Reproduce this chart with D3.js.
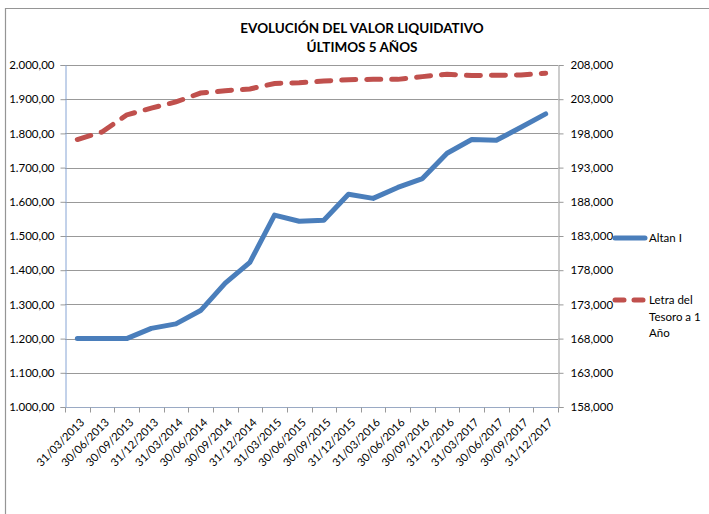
<!DOCTYPE html>
<html>
<head>
<meta charset="utf-8">
<script src="https://cdn.jsdelivr.net/npm/d3@7"></script>
<style>
  body { margin: 0; background: #fff; }
  text { font-family: Lato, "Open Sans", sans-serif; fill: #000; }
</style>
</head>
<body>
<svg id="chart" width="709" height="514"></svg>
<script>
// fechas (trimestres)
var fechas = ["31/03/2013", "30/06/2013", "30/09/2013", "31/12/2013", "31/03/2014", "30/06/2014",
	"30/09/2014", "31/12/2014", "31/03/2015", "30/06/2015", "30/09/2015", "31/12/2015",
	"31/03/2016", "30/06/2016", "30/09/2016", "31/12/2016", "31/03/2017", "30/06/2017",
	"30/09/2017", "31/12/2017"];

// valor liquidativo Altan I (eje izquierdo)
var altan = [1200, 1200, 1200, 1230, 1243, 1282, 1362, 1423, 1561, 1543, 1546, 1622,
	1610, 1642, 1668, 1742, 1782, 1780, 1818, 1857];

// Letra del Tesoro a 1 año (eje derecho)
var letra = [197100, 198200, 200700, 201700, 202600, 203900, 204250, 204500, 205300, 205400,
	205650, 205850, 205900, 205900, 206300, 206650, 206450, 206500, 206550, 206800];

var ticksIzq = d3.range(1000, 2001, 100);
var ticksDer = d3.range(158000, 208001, 5000);

var svg = d3.select("#chart");

var mLeft = 65, mRight = 558, mTop = 65, mBottom = 407;

var x = d3.scaleBand().domain(fechas).range([mLeft, mRight]);
var yIzq = d3.scaleLinear().domain([1000, 2000]).range([mBottom, mTop]);
var yDer = d3.scaleLinear().domain([158000, 208000]).range([mBottom, mTop]);

var fmtIzq = function(d){
	return d3.format(",.2f")(d).replace(/,/g, "#").replace(".", ",").replace(/#/g, ".");
};
var fmtDer = function(d){
	return d3.format(",")(d);
};

// marco
svg.append("path")
	.attr("d", "M5.5,514 V8.5 H709")
	.attr("fill", "none")
	.attr("stroke", "#959595")
	.attr("stroke-width", 1.2);

// titulo
svg.append("text")
	.attr("x", 362).attr("y", 33)
	.attr("text-anchor", "middle")
	.style("font-size", "13.5px").style("font-weight", "bold")
	.text("EVOLUCIÓN DEL VALOR LIQUIDATIVO");
svg.append("text")
	.attr("x", 362).attr("y", 52)
	.attr("text-anchor", "middle")
	.style("font-size", "13.5px").style("font-weight", "bold")
	.text("ÚLTIMOS 5 AÑOS");

// rejilla
svg.append("g")
	.selectAll("line")
	.data(ticksIzq.slice(1))
	.enter().append("line")
		.attr("x1", mLeft).attr("x2", mRight)
		.attr("y1", function(d){ return Math.round(yIzq(d)) + 0.5; })
		.attr("y2", function(d){ return Math.round(yIzq(d)) + 0.5; })
		.attr("stroke", "#999")
		.attr("stroke-width", 1);

// eje izquierdo
var gIzq = svg.append("g")
	.attr("transform", "translate(" + (mLeft + 0.5) + ",0)")
	.call(d3.axisLeft(yIzq).tickValues(ticksIzq).tickFormat(fmtIzq).tickSizeOuter(0).tickSize(5).tickPadding(6));
gIzq.select(".domain").attr("stroke", "#86a4d4");
gIzq.selectAll(".tick line").attr("stroke", "#999");
gIzq.selectAll("text").style("font-size", "11.5px").style("font-family", "Lato, sans-serif");

// eje derecho
var gDer = svg.append("g")
	.attr("transform", "translate(" + (mRight + 0.5) + ",0)")
	.call(d3.axisRight(yDer).tickValues(ticksDer).tickFormat(fmtDer).tickSizeOuter(0).tickSize(5).tickPadding(7));
gDer.select(".domain").attr("stroke", "#999");
gDer.selectAll(".tick line").attr("stroke", "#999");
gDer.selectAll("text").style("font-size", "11.5px").style("font-family", "Lato, sans-serif");

// eje x
var gX = svg.append("g")
	.attr("transform", "translate(0," + (mBottom + 0.5) + ")");
gX.append("line")
	.attr("x1", mLeft).attr("x2", mRight)
	.attr("stroke", "#9aaac4");
gX.selectAll("line.tk")
	.data(fechas.concat(["fin"]))
	.enter().append("line")
		.attr("class", "tk")
		.attr("x1", function(d, i){ return Math.round(mLeft + i * x.bandwidth()) + 0.5; })
		.attr("x2", function(d, i){ return Math.round(mLeft + i * x.bandwidth()) + 0.5; })
		.attr("y1", 0).attr("y2", 5)
		.attr("stroke", "#999");
gX.selectAll("text")
	.data(fechas)
	.enter().append("text")
		.attr("transform", function(d){ return "translate(" + (x(d) + x.bandwidth() / 2 + 5) + ",13) rotate(-45)"; })
		.attr("text-anchor", "end")
		.attr("dy", "0.35em")
		.style("font-size", "11.2px")
		.text(function(d){ return d; });

// lineas
var cx = function(d, i){ return x(fechas[i]) + x.bandwidth() / 2; };

svg.append("path")
	.datum(letra)
	.attr("d", d3.line().x(cx).y(function(d){ return yDer(d); }))
	.attr("fill", "none")
	.attr("stroke", "#c0504d")
	.attr("stroke-width", 5)
	.attr("stroke-linecap", "round")
	.attr("stroke-dasharray", "14,11");

svg.append("path")
	.datum(altan)
	.attr("d", d3.line().x(cx).y(function(d){ return yIzq(d); }))
	.attr("fill", "none")
	.attr("stroke", "#4a7ebb")
	.attr("stroke-width", 5)
	.attr("stroke-linecap", "round")
	.attr("stroke-linejoin", "round");

// leyenda
var leyenda = svg.append("g");
leyenda.append("line")
	.attr("x1", 615).attr("x2", 645).attr("y1", 238).attr("y2", 238)
	.attr("stroke", "#4a7ebb").attr("stroke-width", 5).attr("stroke-linecap", "round");
leyenda.append("text")
	.attr("x", 649).attr("y", 242)
	.style("font-size", "11.5px")
	.text("Altan I");
leyenda.append("line")
	.attr("x1", 615).attr("x2", 647).attr("y1", 300).attr("y2", 300)
	.attr("stroke", "#c0504d").attr("stroke-width", 5).attr("stroke-linecap", "round")
	.attr("stroke-dasharray", "9,10");
var lt = leyenda.append("text")
	.attr("x", 649).attr("y", 304)
	.style("font-size", "11.5px");
["Letra del", "Tesoro a 1", "Año"].forEach(function(t, i){
	lt.append("tspan").attr("x", 649).attr("dy", i == 0 ? 0 : 16.5).text(t);
});
</script>
</body>
</html>
